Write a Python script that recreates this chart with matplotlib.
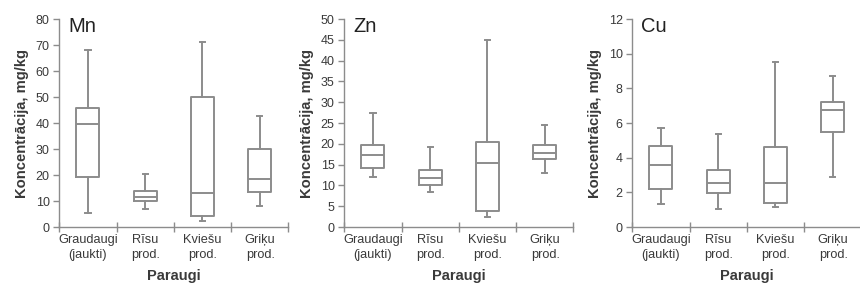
import matplotlib
matplotlib.use('Agg')
import matplotlib.pyplot as plt

plt.rcParams['font.family'] = ['Liberation Sans', 'DejaVu Sans']

categories = ['Graudaugi\n(jaukti)', 'Rīsu\nprod.', 'Kviešu\nprod.', 'Griķu\nprod.']
elements = ['Mn', 'Zn', 'Cu']
y_max = [80, 50, 12]
y_step = [10, 5, 2]

# whisker low, Q1, median, Q3, whisker high for each category
mn_low = [5.3, 6.8, 2.4, 8.0]
mn_q1 = [19.4, 9.9, 4.2, 13.3]
mn_med = [39.7, 11.4, 13.0, 18.5]
mn_q3 = [45.8, 14.0, 50.1, 30.0]
mn_high = [68.0, 20.5, 71.3, 42.7]

zn_low = [12.1, 8.5, 2.5, 13.0]
zn_q1 = [14.2, 10.1, 3.8, 16.4]
zn_med = [17.3, 11.8, 15.3, 17.7]
zn_q3 = [19.6, 13.6, 20.4, 19.6]
zn_high = [27.5, 19.3, 44.9, 24.5]

cu_low = [1.33, 1.02, 1.17, 2.88]
cu_q1 = [2.21, 1.94, 1.37, 5.5]
cu_med = [3.56, 2.52, 2.52, 6.77]
cu_q3 = [4.69, 3.27, 4.62, 7.23]
cu_high = [5.7, 5.37, 9.52, 8.71]

panels = [
    (mn_low, mn_q1, mn_med, mn_q3, mn_high),
    (zn_low, zn_q1, zn_med, zn_q3, zn_high),
    (cu_low, cu_q1, cu_med, cu_q3, cu_high),
]

line_col = '#8c8c8c'
text_col = '#3a3a3a'

fig = plt.figure(figsize=(8.6, 2.89), dpi=100)
lefts = [59.3, 344.3, 632.3]

for i, (lo, q1, med, q3, hi) in enumerate(panels):
    ax = fig.add_axes([lefts[i] / 860, 1 - 227 / 289, 229 / 860, 208 / 289])
    stats = []
    for j in range(len(categories)):
        stats.append({'whislo': lo[j], 'q1': q1[j], 'med': med[j],
                      'q3': q3[j], 'whishi': hi[j], 'fliers': []})
    lp = dict(color=line_col, linewidth=1.4)
    ax.bxp(stats, positions=[1, 2, 3, 4], widths=0.4, showfliers=False,
           boxprops=lp, medianprops=lp, whiskerprops=lp,
           capprops=lp, capwidths=0.09)

    ax.set_xlim(0.5, 4.5)
    ax.set_ylim(0, y_max[i])
    ax.set_yticks(range(0, y_max[i] + 1, y_step[i]))

    # tick marks at category boundaries, labels at centers
    ax.set_xticks([0.5, 1.5, 2.5, 3.5, 4.5])
    ax.set_xticklabels([])
    ax.set_xticks([1, 2, 3, 4], minor=True)
    ax.set_xticklabels(categories, minor=True)
    labels = ax.get_xticklabels(minor=True)
    labels[3].set_multialignment('right')
    for lb in labels:
        lb.set_linespacing(1.3)
    ax.tick_params(axis='x', which='major', direction='inout', length=7,
                   color=line_col, width=1)
    ax.tick_params(axis='x', which='minor', length=0, pad=5,
                   labelsize=9.2, labelcolor=text_col)
    ax.tick_params(axis='y', direction='out', length=4, color=line_col,
                   width=1, labelsize=9, labelcolor=text_col, pad=3)

    for s in ['top', 'right']:
        ax.spines[s].set_visible(False)
    for s in ['left', 'bottom']:
        ax.spines[s].set_color(line_col)
        ax.spines[s].set_linewidth(1)
    ax.spines['bottom'].set_clip_on(False)

    ax.set_ylabel('Koncentrācija, mg/kg', fontsize=10.6, fontweight='bold',
                  color=text_col, labelpad=5)
    ax.set_xlabel('Paraugi', fontsize=10.5, fontweight='bold',
                  color=text_col, labelpad=6)
    ax.text(0.04, 0.965, elements[i], transform=ax.transAxes, fontsize=14.5,
            color='#222222', va='center', ha='left')

fig.savefig('out.png', dpi=100)
